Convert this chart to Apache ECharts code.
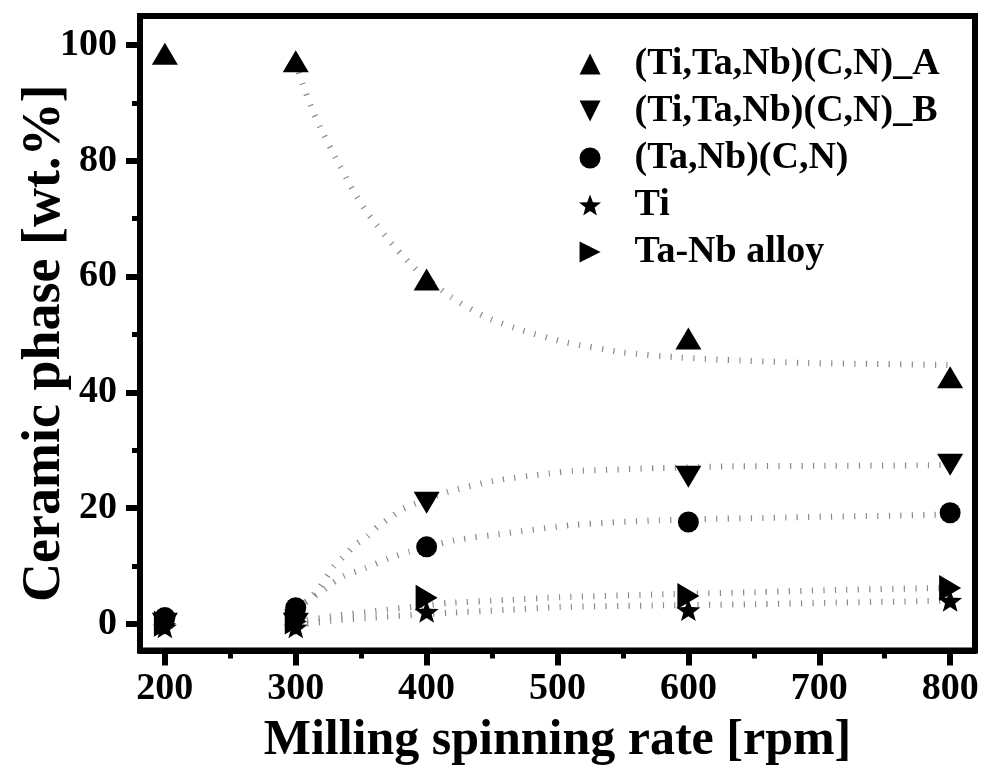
<!DOCTYPE html>
<html>
<head>
<meta charset="utf-8">
<script src="https://cdn.jsdelivr.net/npm/echarts@6/dist/echarts.min.js"></script>
<style>
    html, body { margin: 0; padding: 0; background: #fff; }
    #chart { width: 984px; height: 769px; }
</style>
</head>
<body>
<div id="chart"></div>
<script>
"use strict";

// measured points
var rates       = [200, 300, 400, 600, 800];
var phaseA      = [98.5, 97.2, 59.5, 49.3, 42.6];
var phaseB      = [0, 0, 20.9, 25.4, 27.5];
var taNbCN      = [1.1, 2.8, 13.3, 17.6, 19.2];
var tiPhase     = [-0.6, -0.6, 2.1, 2.4, 4.0];
var taNbAlloy   = [0, 0.4, 4.5, 4.8, 6.2];

// dotted fit curves as [rpm, wt.%]
var fitA = [[300, 97.2], [303, 94.7], [313, 88.6], [321, 84.7], [330, 80.7], [344, 74.8], [355, 70.9],
    [376, 65.0], [393, 61.0], [419, 56.4], [446, 52.9], [473, 50.7], [507, 48.6], [550, 46.9],
    [594, 46.0], [640, 45.5], [686, 45.1], [740, 44.9], [800, 44.7]];
var fitB = [[300, 2.5], [308, 3.8], [317, 5.9], [329, 9.9], [338, 11.9], [345, 13.6], [355, 15.2],
    [363, 16.9], [373, 18.5], [381, 19.8], [416, 22.8], [451, 24.7], [494, 26.0], [512, 26.4],
    [578, 26.9], [630, 27.2], [700, 27.3], [783, 27.4], [800, 27.5]];
var fitCN = [[300, 2.8], [316, 5.0], [328, 7.0], [336, 8.2], [353, 9.6], [371, 11.3], [387, 12.5],
    [400, 13.3], [423, 14.5], [459, 15.6], [512, 17.1], [578, 17.9], [680, 18.4], [783, 18.8], [800, 18.9]];
var fitTi = [[300, -0.3], [330, 0.6], [360, 1.1], [400, 1.7], [416, 1.9], [460, 2.4], [502, 2.9],
    [580, 3.2], [655, 3.4], [720, 3.7], [800, 4.0]];
var fitAlloy = [[300, 0.3], [330, 1.4], [360, 2.2], [400, 3.2], [416, 3.6], [460, 4.1], [502, 4.6],
    [580, 5.1], [655, 5.5], [720, 5.9], [800, 6.2]];

var xMajor = [200, 300, 400, 500, 600, 700, 800];
var xMinor = [250, 350, 450, 550, 650, 750];
var xTop   = [200, 250, 300, 350, 400, 450, 500, 550, 600, 650, 700, 750, 800];
var yMajor = [0, 20, 40, 60, 80, 100];
var yMinor = [10, 30, 50, 70, 90];

var names = ['(Ti,Ta,Nb)(C,N)_A', '(Ti,Ta,Nb)(C,N)_B', '(Ta,Nb)(C,N)', 'Ti', 'Ta-Nb alloy'];

var FONT = "'Liberation Serif', 'Times New Roman', serif";
var STAR = 'path://M10,0 L12.47,6.6 L19.51,6.91 L13.99,11.3 L15.88,18.09 L10,14.2 L4.12,18.09 L6.01,11.3 L0.49,6.91 L7.53,6.6 Z';
var UP    = 'path://M5,0 L10,10 L0,10 Z';
var DOWN  = 'path://M0,0 L10,0 L5,10 Z';
var RIGHT = 'path://M0,0 L10,5 L0,10 Z';

function pairs(ys) {
    return rates.map(function (x, i) { return [x, ys[i]]; });
}

function scatter(name, ys, symbol, size) {
    return {
        name: name,
        type: 'scatter',
        data: pairs(ys),
        symbol: symbol,
        symbolSize: size,
        itemStyle: { color: '#000', opacity: 1 },
        z: 5
    };
}

function fit(data) {
    return {
        type: 'line',
        data: data,
        showSymbol: false,
        smooth: 0.2,
        silent: true,
        lineStyle: { color: '#8a8a8a', width: 6, type: [1.2, 10.3], cap: 'butt' },
        z: 2
    };
}

var chart = echarts.init(document.getElementById('chart'));

var option = {
    animation: false,
    backgroundColor: '#fff',
    grid: {
        left: 140, right: 9, top: 16, bottom: 118.5,
        outerBoundsMode: 'none',
        containLabel: false,
        show: true, borderColor: '#000', borderWidth: 6, backgroundColor: 'transparent'
    },
    legend: {
        data: names,
        orient: 'vertical',
        left: 579,
        top: 45,
        padding: 0,
        itemWidth: 25,
        itemHeight: 21,
        itemGap: 9,
        itemStyle: { opacity: 1 },
        textStyle: {
            fontFamily: FONT, fontWeight: 'bold', fontSize: 38, color: '#000',
            lineHeight: 38, padding: [0, 0, 0, 27]
        }
    },
    xAxis: [
        {
            type: 'value', min: 181, max: 819, position: 'bottom',
            axisLine: { onZero: false, lineStyle: { color: '#000', width: 6 } },
            axisTick: { customValues: xMajor, length: 15, lineStyle: { color: '#000', width: 6 } },
            axisLabel: {
                customValues: xMajor, margin: 20,
                fontFamily: FONT, fontWeight: 'bold', fontSize: 38, color: '#000'
            },
            splitLine: { show: false },
            name: 'Milling spinning rate [rpm]',
            nameLocation: 'middle',
            nameGap: 66,
            nameMoveOverlap: false,
            nameTextStyle: { fontFamily: FONT, fontWeight: 'bold', fontSize: 50, color: '#000' }
        },
        {
            type: 'value', min: 181, max: 819, position: 'bottom',
            axisLine: { show: false, onZero: false },
            axisTick: { customValues: xMinor, length: 8, lineStyle: { color: '#000', width: 5 } },
            axisLabel: { show: false },
            splitLine: { show: false }
        },
        {
            type: 'value', min: 181, max: 819, position: 'top',
            axisLine: { show: false, onZero: false },
            axisTick: { customValues: xTop, length: 3, lineStyle: { color: '#000', width: 3 } },
            axisLabel: { show: false },
            splitLine: { show: false }
        }
    ],
    yAxis: [
        {
            type: 'value', min: -4.6, max: 105, position: 'left',
            axisLine: { show: true, onZero: false, lineStyle: { color: '#000', width: 6 } },
            axisTick: { show: true, customValues: yMajor, length: 14, lineStyle: { color: '#000', width: 6 } },
            axisLabel: {
                customValues: yMajor, margin: 23,
                fontFamily: FONT, fontWeight: 'bold', fontSize: 38, color: '#000'
            },
            splitLine: { show: false },
            name: 'Ceramic phase [wt.%]',
            nameLocation: 'middle',
            nameGap: 68,
            nameMoveOverlap: false,
            nameTextStyle: {
                fontFamily: FONT, fontWeight: 'bold', fontSize: 54, color: '#000',
                padding: [0, 20, 0, 0]
            }
        },
        {
            type: 'value', min: -4.6, max: 105, position: 'left',
            axisLine: { show: false, onZero: false },
            axisTick: { show: true, customValues: yMinor, length: 8, lineStyle: { color: '#000', width: 5 } },
            axisLabel: { show: false },
            splitLine: { show: false }
        }
    ],
    series: [
        fit(fitA), fit(fitB), fit(fitCN), fit(fitTi), fit(fitAlloy),
        scatter(names[0], phaseA, UP, [26, 22]),
        scatter(names[1], phaseB, DOWN, [26, 22]),
        scatter(names[2], taNbCN, 'circle', 21),
        scatter(names[3], tiPhase, STAR, [24, 22]),
        scatter(names[4], taNbAlloy, RIGHT, [22, 26])
    ]
};

chart.setOption(option);
</script>
</body>
</html>
